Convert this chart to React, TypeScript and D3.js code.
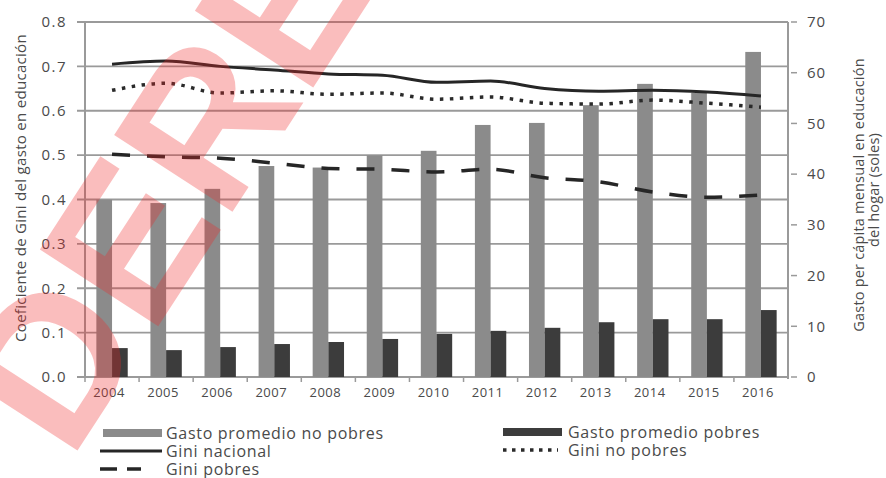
import React from 'react';
import * as d3 from 'd3';

const years = ['2004','2005','2006','2007','2008','2009','2010','2011','2012','2013','2014','2015','2016'];
const gastoNoPobres = [35.0, 34.3, 37.1, 41.6, 41.3, 43.7, 44.6, 49.7, 50.1, 53.6, 57.8, 56.0, 64.1];
const gastoPobres = [5.7, 5.3, 5.9, 6.5, 6.9, 7.5, 8.5, 9.1, 9.7, 10.8, 11.4, 11.4, 13.2];
const giniNacional = [0.705, 0.712, 0.700, 0.692, 0.683, 0.680, 0.664, 0.667, 0.650, 0.644, 0.646, 0.642, 0.633];
const giniNoPobres = [0.646, 0.662, 0.640, 0.645, 0.637, 0.640, 0.626, 0.631, 0.617, 0.615, 0.624, 0.617, 0.608];
const giniPobres = [0.502, 0.496, 0.493, 0.482, 0.470, 0.468, 0.462, 0.468, 0.449, 0.440, 0.417, 0.405, 0.410];
const leftTicks = [0, 0.1, 0.2, 0.3, 0.4, 0.5, 0.6, 0.7, 0.8];
const rightTicks = [0, 10, 20, 30, 40, 50, 60, 70];

const W = 886, H = 478;
const L = 85, R = 788, T = 22, B = 377;
const FONT = "'Open Sans', sans-serif";
const TXT = '#4a4a4a';

export default function App() {
  const x = d3.scaleBand<string>().domain(years).range([L, R]).padding(0);
  const yL = d3.scaleLinear().domain([0, 0.8]).range([B, T]);
  const yR = d3.scaleLinear().domain([0, 70]).range([B, T]);
  const bw = x.bandwidth() * 0.29;
  const cx = (i: number) => (x(years[i]) as number) + x.bandwidth() / 2;
  const line = d3.line<number>().x((_, i) => cx(i)).y(d => yL(d)).curve(d3.curveMonotoneX);

  return (
    <svg width={W} height={H} style={{ position: 'absolute', left: 0, top: 0, background: '#fff' }}>
      <rect x={0} y={0} width={W} height={H} fill="#fff" />
      {/* grid */}
      {leftTicks.map(t => (
        <line key={'g' + t} x1={L - 8} x2={R} y1={yL(t)} y2={yL(t)} stroke="#9a9a9a" strokeWidth={t === 0 ? 2 : 1.8} />
      ))}
      <line x1={L} x2={L} y1={T} y2={B} stroke="#9a9a9a" strokeWidth={2} />
      <line x1={R} x2={R} y1={T} y2={B + 2} stroke="#9a9a9a" strokeWidth={2} />
      {rightTicks.map(t => (
        <line key={'rt' + t} x1={R + 3} x2={R + 9} y1={yR(t)} y2={yR(t)} stroke="#9a9a9a" strokeWidth={1.5} />
      ))}
      {years.map((y) => (
        <line key={'xt' + y} x1={(x(y) as number)} x2={(x(y) as number)} y1={B} y2={B + 5} stroke="#9a9a9a" strokeWidth={1.5} />
      ))}
      {/* bars */}
      {years.map((y, i) => (
        <g key={'b' + y}>
          <rect x={cx(i) - bw} y={yR(gastoNoPobres[i])} width={bw} height={B - yR(gastoNoPobres[i])} fill="#8b8b8b" />
          <rect x={cx(i)} y={yR(gastoPobres[i])} width={bw} height={B - yR(gastoPobres[i])} fill="#3c3c3c" />
        </g>
      ))}
      {/* lines */}
      <path d={line(giniNacional) || ''} fill="none" stroke="#262626" strokeWidth={3} />
      <path d={line(giniNoPobres) || ''} fill="none" stroke="#2a2a2a" strokeWidth={3.5} strokeDasharray="3.5 6.5" />
      <path d={line(giniPobres) || ''} fill="none" stroke="#262626" strokeWidth={3.5} strokeDasharray="18 17" />
      {/* left tick labels */}
      {leftTicks.map(t => (
        <text key={'lt' + t} x={67} y={yL(t)} dy="0.35em" textAnchor="end" fontFamily={FONT} fontSize={15} letterSpacing={1.5} fill={TXT}>
          {t.toFixed(1)}
        </text>
      ))}
      {rightTicks.map(t => (
        <text key={'rl' + t} x={807} y={yR(t)} dy="0.35em" textAnchor="start" fontFamily={FONT} fontSize={15} letterSpacing={1} fill={TXT}>
          {t}
        </text>
      ))}
      {years.map((y, i) => (
        <text key={'yl' + y} x={cx(i) - 3} y={397} textAnchor="middle" fontFamily={FONT} fontSize={13} letterSpacing={0.5} fill={TXT}>
          {y}
        </text>
      ))}
      {/* axis titles */}
      <text transform="translate(26,188) rotate(-90)" textAnchor="middle" fontFamily={FONT} fontSize={15} letterSpacing={0.3} fill={TXT}>
        Coeficiente de Gini del gasto en educación
      </text>
      <text transform="translate(864,195) rotate(-90)" textAnchor="middle" fontFamily={FONT} fontSize={14.5} letterSpacing={0.2} fill={TXT}>
        Gasto per cápita mensual en educación
      </text>
      <text transform="translate(879,190) rotate(-90)" textAnchor="middle" fontFamily={FONT} fontSize={14.5} letterSpacing={0.2} fill={TXT}>
        del hogar (soles)
      </text>
      {/* legend */}
      <g fontFamily={FONT} fontSize={16} letterSpacing={0.7} fill={TXT}>
        <rect x={103} y={429} width={59} height={8} fill="#8b8b8b" />
        <text x={166} y={438.5}>Gasto promedio no pobres</text>
        <line x1={100} x2={162} y1={451} y2={451} stroke="#262626" strokeWidth={3} />
        <text x={166} y={456.5}>Gini nacional</text>
        <line x1={100} x2={141} y1={469} y2={469} stroke="#262626" strokeWidth={3.5} strokeDasharray="17 10" />
        <text x={166} y={474.5}>Gini pobres</text>
        <rect x={503} y={428} width={59} height={8} fill="#3c3c3c" />
        <text x={568} y={437.5}>Gasto promedio pobres</text>
        <line x1={503} x2={558} y1={450} y2={450} stroke="#2a2a2a" strokeWidth={3.5} strokeDasharray="3.5 5.5" />
        <text x={568} y={455.5}>Gini no pobres</text>
      </g>
      {/* watermark */}
      <text transform="translate(70,462) rotate(-57)" fontFamily="'Liberation Sans', Arial, sans-serif" fontWeight="bold" fontSize={205} fill="rgb(240,40,40)" opacity={0.3}>
        DERECHOS
      </text>
    </svg>
  );
}
